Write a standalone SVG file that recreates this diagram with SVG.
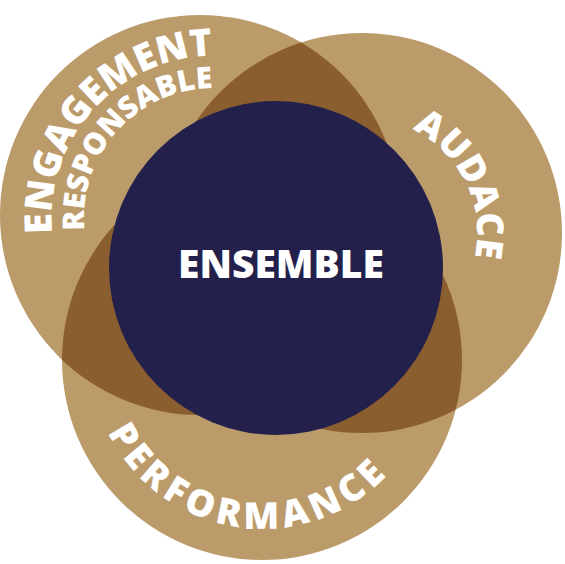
<svg xmlns="http://www.w3.org/2000/svg" width="565" height="564" viewBox="0 0 565 564">
  <style>
    .tan { fill: #BC9B6A; }
    .dark { fill: #8A5E2E; }
    .core { fill: #23214C; }
    .lbl { fill: #FFFFFF; font-family: "Open Sans", "Liberation Sans", sans-serif; font-weight: 800; }
  </style>
  <defs>
    <clipPath id="clip-c1"><circle cx="200" cy="215" r="200"/></clipPath>
    <clipPath id="clip-c2"><circle cx="362" cy="233" r="200"/></clipPath>
    <path id="arc-engagement" d="M 104.9 339.1 A 163 163 0 0 1 323.1 96.9"/>
    <path id="arc-responsable" d="M 127 314.6 A 130 130 0 0 1 301 121.4"/>
    <path id="arc-audace" d="M 311.6 129.6 A 115 115 0 0 1 412.4 336.4"/>
    <path id="arc-performance" d="M 91.7 336.1 A 172 172 0 0 0 432.3 383.9"/>
  </defs>

  <g id="circle-engagement">
    <circle class="tan" cx="200" cy="215" r="200"/>
  </g>
  <g id="circle-audace">
    <circle class="tan" cx="362" cy="233" r="200"/>
  </g>
  <g id="circle-performance">
    <circle class="tan" cx="262" cy="360" r="200"/>
  </g>
  <g id="overlaps">
    <circle class="dark" cx="362" cy="233" r="200" clip-path="url(#clip-c1)"/>
    <circle class="dark" cx="262" cy="360" r="200" clip-path="url(#clip-c1)"/>
    <circle class="dark" cx="262" cy="360" r="200" clip-path="url(#clip-c2)"/>
  </g>
  <g id="circle-ensemble">
    <circle class="core" cx="276" cy="268" r="167"/>
    <text class="lbl" x="281" y="278" font-size="39" text-anchor="middle">ENSEMBLE</text>
  </g>

  <g id="label-engagement">
    <text class="lbl" font-size="38"><textPath href="#arc-engagement" startOffset="50%" text-anchor="middle">ENGAGEMENT</textPath></text>
    <text class="lbl" font-size="30"><textPath href="#arc-responsable" startOffset="50%" text-anchor="middle">RESPONSABLE</textPath></text>
  </g>
  <g id="label-audace">
    <text class="lbl" font-size="37"><textPath href="#arc-audace" startOffset="50%" text-anchor="middle">AUDACE</textPath></text>
  </g>
  <g id="label-performance">
    <text class="lbl" font-size="37" letter-spacing="5"><textPath href="#arc-performance" startOffset="50%" text-anchor="middle">PERFORMANCE</textPath></text>
  </g>
</svg>
